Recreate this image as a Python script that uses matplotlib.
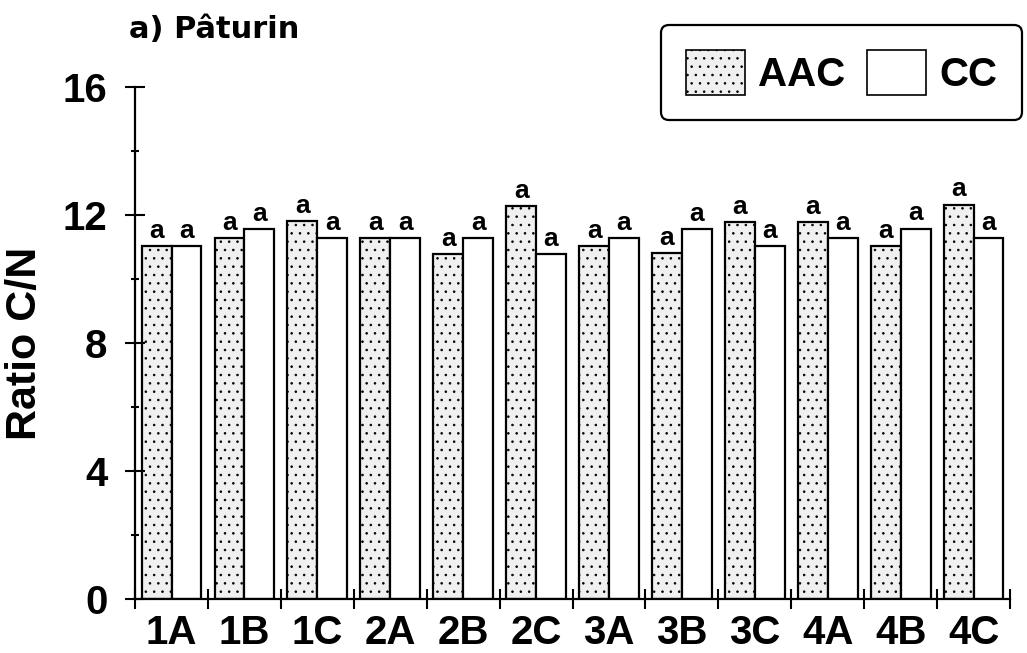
# ============================================================
# plot.py
# Ratio C/N par placette (a) Pâturin : AAC vs CC, barres groupées
# avec lettres de signification au-dessus de chaque barre.
# ============================================================
import numpy as np
import matplotlib
matplotlib.use('Agg')
from matplotlib import pyplot as plt
from matplotlib.patches import Patch
from matplotlib.ticker import MultipleLocator, FixedLocator

plt.rcParams['font.family'] = ['Liberation Sans', 'DejaVu Sans']
plt.rcParams['hatch.color'] = '#6a6a6a'
plt.rcParams['hatch.linewidth'] = 0.6

# --- data -------------------------------------------------------
plots = ['1A', '1B', '1C', '2A', '2B', '2C', '3A', '3B', '3C', '4A', '4B', '4C']
aac_ratio = [11.03, 11.27, 11.80, 11.27, 10.78, 12.28, 11.03, 10.80, 11.78, 11.78, 11.03, 12.32]
cc_ratio = [11.03, 11.55, 11.27, 11.27, 11.28, 10.78, 11.28, 11.55, 11.03, 11.28, 11.57, 11.28]
aac_letters = ['a'] * len(plots)
cc_letters = ['a'] * len(plots)

TITLE = 'a) Pâturin'
Y_LABEL = 'Ratio C/N'
BAR_WIDTH = 0.41

fig = plt.figure(figsize=(10.27, 6.53), dpi=100)
ax = fig.add_axes([0.1315, 0.0827, 0.852, 0.784])

x = np.arange(len(plots))
aac_bars = ax.bar(x - BAR_WIDTH / 2, aac_ratio, BAR_WIDTH, facecolor='#f0f0f0',
                  edgecolor='black', linewidth=1.6, hatch='..')
cc_bars = ax.bar(x + BAR_WIDTH / 2, cc_ratio, BAR_WIDTH, facecolor='white',
                 edgecolor='black', linewidth=1.6)

# significance letters above each bar
for bars, letters in ((aac_bars, aac_letters), (cc_bars, cc_letters)):
    for rect, letter in zip(bars, letters):
        ax.annotate(letter, (rect.get_x() + rect.get_width() / 2, rect.get_height()),
                    xytext=(0, 6), textcoords='offset points', ha='center', va='baseline',
                    fontsize=19, fontweight='bold')

ax.set_xlim(-0.5, len(plots) - 0.5)
ax.set_ylim(0, 16)

# axes: left and bottom only
for side in ('top', 'right'):
    ax.spines[side].set_visible(False)
for side in ('left', 'bottom'):
    ax.spines[side].set_linewidth(1.6)

ax.yaxis.set_major_locator(MultipleLocator(4))
ax.yaxis.set_minor_locator(MultipleLocator(2))
ax.tick_params(axis='y', which='major', direction='inout', length=14, width=1.5,
               pad=13, labelsize=29)
ax.tick_params(axis='y', which='minor', direction='inout', length=6, width=1.5)
for lab in ax.get_yticklabels():
    lab.set_fontweight('bold')

# x: tick marks at group boundaries, labels centred on groups
ax.xaxis.set_major_locator(FixedLocator(np.arange(len(plots) + 1) - 0.5))
ax.xaxis.set_minor_locator(FixedLocator(x))
ax.set_xticklabels([], minor=False)
ax.set_xticklabels(plots, minor=True, fontsize=29, fontweight='bold')
ax.tick_params(axis='x', which='major', direction='inout', length=14, width=1.5)
ax.tick_params(axis='x', which='minor', length=0, pad=11)

fig.text(25 / 1027, 1 - 343 / 653, Y_LABEL, rotation=90, ha='center', va='center',
         fontsize=31, fontweight='bold')
fig.text(129 / 1027, 1 - 38 / 653, TITLE, ha='left', va='baseline',
         fontsize=22, fontweight='bold', family='DejaVu Sans')

handles = [Patch(facecolor='#f0f0f0', edgecolor='black', hatch='..', linewidth=1.2),
           Patch(facecolor='white', edgecolor='black', linewidth=1.2)]
leg = fig.legend(handles, ['AAC', 'CC'], loc='upper right',
                 bbox_to_anchor=(1022 / 1027, 1 - 25 / 653), ncol=2,
                 prop={'size': 29, 'weight': 'bold'}, handlelength=1.45, handleheight=1.35,
                 handletextpad=0.33, columnspacing=0.55, borderpad=0.62,
                 borderaxespad=0, fancybox=True, framealpha=1)
leg.get_frame().set_edgecolor('black')
leg.get_frame().set_linewidth(1.6)

fig.savefig('out.png', dpi=100)
